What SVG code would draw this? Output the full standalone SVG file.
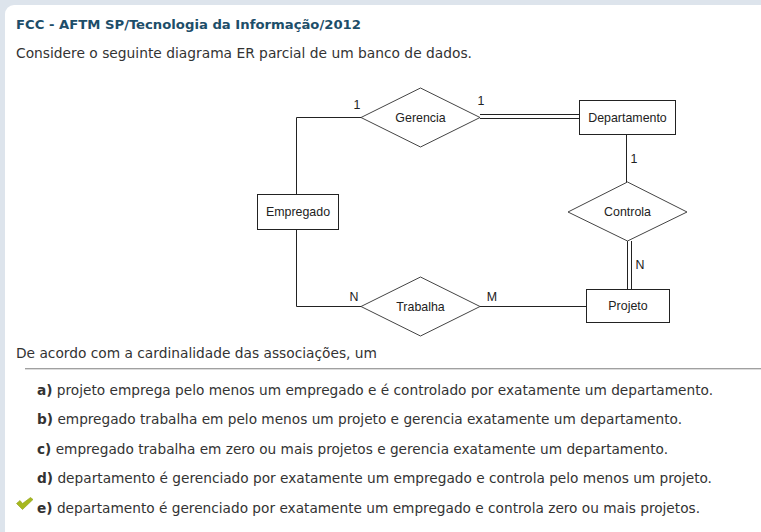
<svg xmlns="http://www.w3.org/2000/svg" width="761" height="532" viewBox="0 0 761 532">
<style>
.t{font-family:"DejaVu Sans Condensed","DejaVu Sans",sans-serif;font-size:14px;fill:#333}
.b{font-weight:bold}
.title{font-family:"DejaVu Sans Condensed","DejaVu Sans",sans-serif;font-size:13px;font-weight:bold;fill:#1d4e69}
.d{font-family:"Liberation Sans",Arial,sans-serif;font-size:12.4px;fill:#222}
.ent{fill:#fff;stroke:#222;stroke-width:1}
.rel{fill:#fff;stroke:#444;stroke-width:1}
.ln{fill:none;stroke:#222;stroke-width:1}
</style>
<rect x="0" y="0" width="761" height="532" fill="#dde4ec"/>
<rect x="5" y="5" width="780" height="560" rx="9" fill="#fff"/>
<text class="title" x="16" y="29" textLength="345" lengthAdjust="spacingAndGlyphs">FCC - AFTM SP/Tecnologia da Informação/2012</text>
<text class="t" x="16" y="58" textLength="456" lengthAdjust="spacingAndGlyphs">Considere o seguinte diagrama ER parcial de um banco de dados.</text>
<g id="connectors">
<polyline class="ln" points="296.5,194 296.5,117.5 361,117.5"/>
<line class="ln" x1="480" y1="114.5" x2="579" y2="114.5"/>
<line class="ln" x1="480" y1="118.5" x2="579" y2="118.5"/>
<line class="ln" x1="626.5" y1="135" x2="626.5" y2="182"/>
<line class="ln" x1="627.5" y1="241" x2="627.5" y2="289"/>
<line class="ln" x1="631.5" y1="241" x2="631.5" y2="289"/>
<line class="ln" x1="480" y1="306.5" x2="586" y2="306.5"/>
<polyline class="ln" points="296.5,230 296.5,306.5 361,306.5"/>
</g>
<g id="gerencia">
<polygon class="rel" points="361,117.5 420.5,88 480,117.5 420.5,147"/>
<text class="d" x="420.5" y="122" text-anchor="middle">Gerencia</text>
</g>
<g id="departamento">
<rect class="ent" x="579.5" y="100.5" width="96" height="34"/>
<text class="d" x="627.5" y="122" text-anchor="middle">Departamento</text>
</g>
<g id="controla">
<polygon class="rel" points="568,212 627.5,182 687,212 627.5,241"/>
<text class="d" x="627.5" y="216" text-anchor="middle">Controla</text>
</g>
<g id="projeto">
<rect class="ent" x="586.5" y="289.5" width="83" height="33"/>
<text class="d" x="628" y="310" text-anchor="middle">Projeto</text>
</g>
<g id="trabalha">
<polygon class="rel" points="361,306.5 420.5,277 480,306.5 420.5,336"/>
<text class="d" x="420.5" y="311" text-anchor="middle">Trabalha</text>
</g>
<g id="empregado">
<rect class="ent" x="257.5" y="194.5" width="81" height="35"/>
<text class="d" x="298" y="216" text-anchor="middle">Empregado</text>
</g>
<g id="labels">
<text class="d" x="357" y="109" text-anchor="middle">1</text>
<text class="d" x="481" y="105" text-anchor="middle">1</text>
<text class="d" x="634" y="163" text-anchor="middle">1</text>
<text class="d" x="640" y="269" text-anchor="middle">N</text>
<text class="d" x="354" y="301" text-anchor="middle">N</text>
<text class="d" x="492" y="301" text-anchor="middle">M</text>
</g>
<text class="t" x="16" y="358" textLength="361" lengthAdjust="spacingAndGlyphs">De acordo com a cardinalidade das associações, um</text>
<line x1="25" y1="368.5" x2="761" y2="368.5" stroke="#a0a0a0" stroke-width="1"/>
<line x1="25" y1="369.5" x2="761" y2="369.5" stroke="#dcdcdc" stroke-width="1"/>
<text class="t" x="37" y="395" textLength="676" lengthAdjust="spacingAndGlyphs"><tspan class="b">a)</tspan> projeto emprega pelo menos um empregado e é controlado por exatamente um departamento.</text>
<text class="t" x="37" y="424" textLength="645" lengthAdjust="spacingAndGlyphs"><tspan class="b">b)</tspan> empregado trabalha em pelo menos um projeto e gerencia exatamente um departamento.</text>
<text class="t" x="37" y="454" textLength="631" lengthAdjust="spacingAndGlyphs"><tspan class="b">c)</tspan> empregado trabalha em zero ou mais projetos e gerencia exatamente um departamento.</text>
<text class="t" x="37" y="483" textLength="675" lengthAdjust="spacingAndGlyphs"><tspan class="b">d)</tspan> departamento é gerenciado por exatamente um empregado e controla pelo menos um projeto.</text>
<text class="t" x="37" y="513" textLength="663" lengthAdjust="spacingAndGlyphs"><tspan class="b">e)</tspan> departamento é gerenciado por exatamente um empregado e controla zero ou mais projetos.</text>
<path d="M16.5,503.5 L20,500.5 L22.5,503.5 L30.5,497.5 L33,499.5 L22.5,509.5 Z" fill="#a6b81e" stroke="#8f9f14" stroke-width="0.6"/>
</svg>
